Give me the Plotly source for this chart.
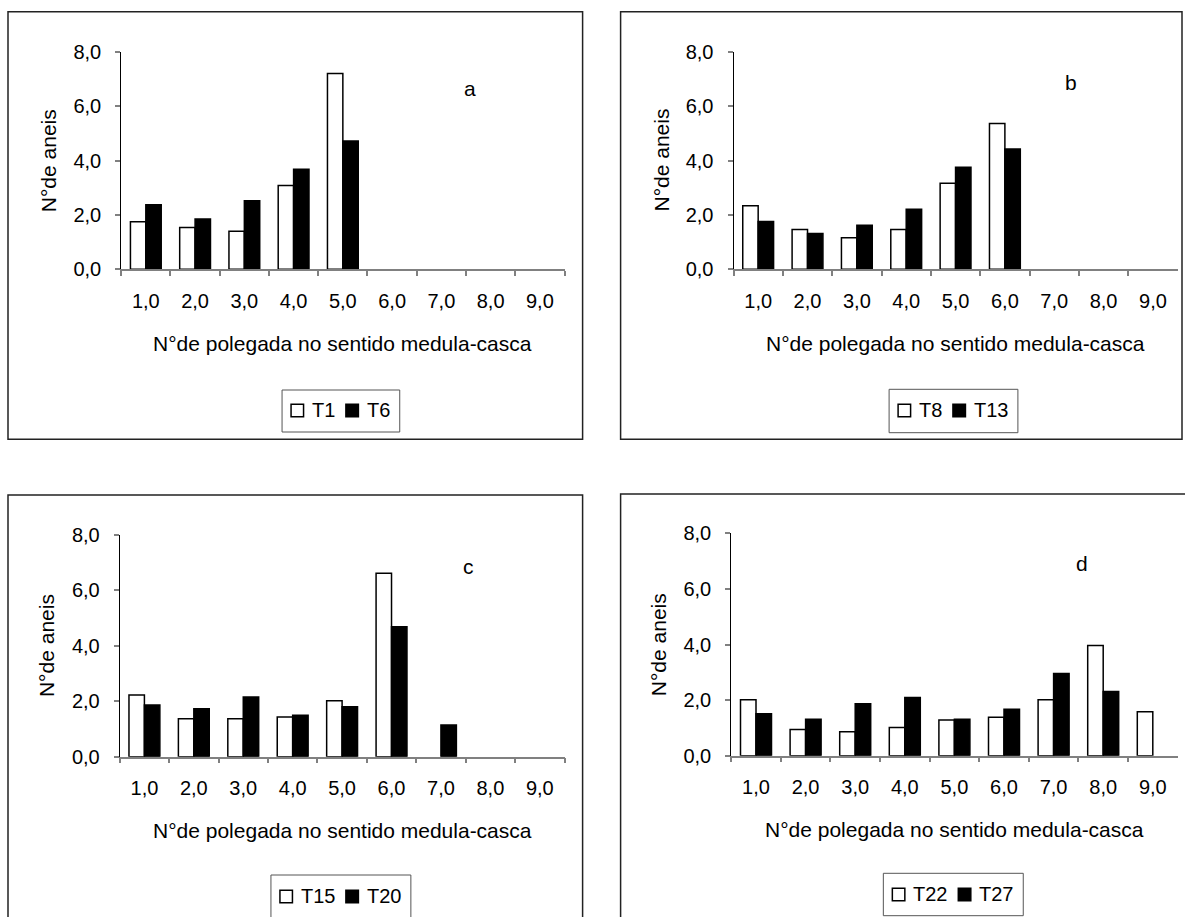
import plotly.graph_objects as go

# ---- data ----
categories = ["1,0", "2,0", "3,0", "4,0", "5,0", "6,0", "7,0", "8,0", "9,0"]

a_T1 = [1.75, 1.54, 1.40, 3.08, 7.20, None, None, None, None]
a_T6 = [2.37, 1.85, 2.52, 3.68, 4.72, None, None, None, None]

b_T8 = [2.34, 1.46, 1.16, 1.46, 3.16, 5.36, None, None, None]
b_T13 = [1.76, 1.32, 1.62, 2.21, 3.75, 4.42, None, None, None]

c_T15 = [2.23, 1.37, 1.37, 1.43, 2.02, 6.62, None, None, None]
c_T20 = [1.87, 1.73, 2.15, 1.50, 1.80, 4.69, 1.14, None, None]

d_T22 = [2.01, 0.94, 0.86, 1.01, 1.28, 1.38, 2.01, 3.96, 1.58]
d_T27 = [1.51, 1.31, 1.87, 2.09, 1.31, 1.67, 2.96, 2.31, None]

panel_letters = ["a", "b", "c", "d"]
series_names = [("T1", "T6"), ("T8", "T13"), ("T15", "T20"), ("T22", "T27")]
series_values = [(a_T1, a_T6), (b_T8, b_T13), (c_T15, c_T20), (d_T22, d_T27)]
y_title = "N°de aneis"
x_title = "N°de polegada no sentido medula-casca"

# ---- layout geometry (pixels) ----
W, H = 1185, 917
FONT = "Liberation Sans, Arial, sans-serif"
LEG_FS = 20

def px_x(v):
    return v / W

def px_y(v):
    return 1 - v / H

def text_w(s, fs):
    # Arial / Liberation Sans advance widths (em)
    widths = {"T": 0.611}
    return sum(widths.get(ch, 0.556) for ch in s) * fs

# plot areas: (x0, x1, ytop, ybottom)
plots = [
    (121.2, 564.5, 51.7, 269.3),
    (733.5, 1177.6, 51.7, 269.3),
    (119.7, 564.5, 535.0, 756.7),
    (731.2, 1177.6, 533.3, 755.7),
]
# outer boxes: (x0, x1, y0, y1)
boxes = [
    (8.0, 582.6, 11.7, 439.3),
    (620.6, 1182.0, 11.7, 439.3),
    (8.0, 582.6, 495.0, 930.0),
    (620.6, 1195.0, 494.0, 930.0),
]
letter_pos = [(470, 89), (1071, 83), (468.6, 566.7), (1082.4, 563.3)]
# legend geometry: centre x, box top, box bottom, swatch/text centre y
legend_geo = [
    (340.9, 390.0, 432.0, 410.5),
    (953.5, 389.3, 432.7, 410.5),
    (340.9, 875.0, 930.0, 896.5),
    (953.3, 873.3, 915.7, 894.5),
]
SQ = 12.5
PAD_L, GAP_T, GAP_I, PAD_R = 9, 8, 11, 10

fig = go.Figure()

for i in range(4):
    ax = "" if i == 0 else str(i + 1)
    s1, s2 = series_values[i]
    n1, n2 = series_names[i]
    fig.add_trace(go.Bar(
        x=categories, y=s1, name=n1, showlegend=False,
        marker=dict(color="white", line=dict(color="black", width=1.5)),
        xaxis="x" + ax, yaxis="y" + ax,
    ))
    fig.add_trace(go.Bar(
        x=categories, y=s2, name=n2, showlegend=False,
        marker=dict(color="black", line=dict(color="black", width=1.5)),
        xaxis="x" + ax, yaxis="y" + ax,
    ))

layout = dict(
    width=W, height=H,
    margin=dict(l=0, r=0, t=0, b=0, autoexpand=False),
    paper_bgcolor="white", plot_bgcolor="white",
    separators=",.",
    barmode="group", bargap=0.375, bargroupgap=0,
    font=dict(family=FONT, color="black", size=20),
    showlegend=False,
    shapes=[], annotations=[],
)

for i in range(4):
    ax = "" if i == 0 else str(i + 1)
    x0, x1, yt, yb = plots[i]
    layout["xaxis" + ax] = dict(
        domain=[px_x(x0), px_x(x1)], anchor="y" + ax,
        type="category", range=[-0.5, 8.5],
        showline=True, linecolor="#808080", linewidth=1.5,
        ticks="outside", ticklen=5, tickcolor="#808080", tickwidth=1.5,
        tickson="boundaries", showgrid=False, zeroline=False,
        tickfont=dict(family=FONT, size=20, color="black"),
        ticklabelstandoff=13, fixedrange=True,
    )
    layout["yaxis" + ax] = dict(
        domain=[px_y(yb), px_y(yt)], anchor="x" + ax,
        range=[0, 8], tickvals=[0, 2, 4, 6, 8], tickformat=".1f",
        showline=True, linecolor="black", linewidth=1,
        ticks="outside", ticklen=5, tickcolor="#808080", tickwidth=1.5,
        showgrid=False, zeroline=False,
        tickfont=dict(family=FONT, size=20, color="black"),
        ticklabelstandoff=10, fixedrange=True,
    )
    # outer box
    bx0, bx1, by0, by1 = boxes[i]
    layout["shapes"].append(dict(
        type="rect", xref="paper", yref="paper",
        x0=px_x(bx0), x1=px_x(bx1), y0=px_y(by1), y1=px_y(by0),
        line=dict(color="#222222", width=1.5), fillcolor="rgba(0,0,0,0)", layer="below",
    ))
    # panel letter
    lx, ly = letter_pos[i]
    layout["annotations"].append(dict(
        text=panel_letters[i], xref="paper", yref="paper",
        x=px_x(lx), y=px_y(ly), xanchor="center", yanchor="middle",
        showarrow=False, font=dict(family=FONT, size=21, color="black"),
    ))
    # y title
    layout["annotations"].append(dict(
        text=y_title, xref="paper", yref="paper",
        x=px_x(x0 - 72.5), y=px_y((yt + yb) / 2), xanchor="center", yanchor="middle",
        textangle=-90, showarrow=False, font=dict(family=FONT, size=21, color="black"),
    ))
    # x title
    layout["annotations"].append(dict(
        text=x_title, xref="paper", yref="paper",
        x=px_x((x0 + x1) / 2), y=px_y(yb + 74), xanchor="center", yanchor="middle",
        showarrow=False, font=dict(family=FONT, size=21, color="black"),
    ))
    # legend (box, two swatches, two labels), centred on cx
    cx, gy0, gy1, cy = legend_geo[i]
    n1, n2 = series_names[i]
    w1, w2 = text_w(n1, LEG_FS), text_w(n2, LEG_FS)
    total = PAD_L + SQ + GAP_T + w1 + GAP_I + SQ + GAP_T + w2 + PAD_R
    gx0 = cx - total / 2
    gx1 = cx + total / 2
    sq1 = gx0 + PAD_L
    t1 = sq1 + SQ + GAP_T
    sq2 = t1 + w1 + GAP_I
    t2 = sq2 + SQ + GAP_T
    layout["shapes"].append(dict(
        type="rect", xref="paper", yref="paper",
        x0=px_x(gx0), x1=px_x(gx1), y0=px_y(gy1), y1=px_y(gy0),
        line=dict(color="#555555", width=1), fillcolor="white",
    ))
    layout["shapes"].append(dict(
        type="rect", xref="paper", yref="paper",
        x0=px_x(sq1), x1=px_x(sq1 + SQ), y0=px_y(cy + SQ / 2), y1=px_y(cy - SQ / 2),
        line=dict(color="black", width=1.5), fillcolor="white",
    ))
    layout["shapes"].append(dict(
        type="rect", xref="paper", yref="paper",
        x0=px_x(sq2), x1=px_x(sq2 + SQ), y0=px_y(cy + SQ / 2), y1=px_y(cy - SQ / 2),
        line=dict(color="black", width=1.5), fillcolor="black",
    ))
    for txt, tx, tw in ((n1, t1, w1), (n2, t2, w2)):
        layout["annotations"].append(dict(
            text=txt, xref="paper", yref="paper",
            x=px_x(tx + tw / 2), y=px_y(cy - 1), xanchor="center", yanchor="middle",
            showarrow=False, font=dict(family=FONT, size=LEG_FS, color="black"),
        ))

fig.update_layout(**layout)
fig.write_html("out.html")
